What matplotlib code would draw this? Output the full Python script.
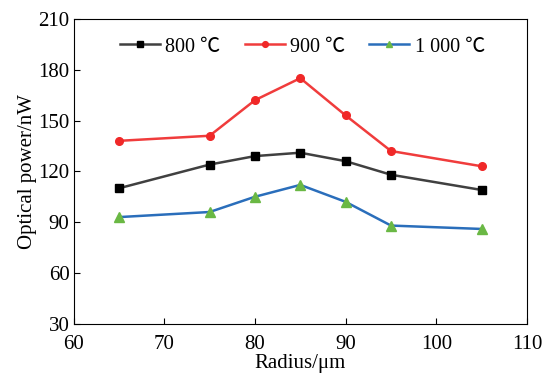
import matplotlib
matplotlib.use('Agg')
import matplotlib.pyplot as plt

plt.rcParams['font.family'] = ['Liberation Serif', 'Noto Sans CJK SC', 'DejaVu Serif']

# radius (um) and optical power (nW) at three annealing temperatures
radius = [65, 75, 80, 85, 90, 95, 105]
p800 = [110, 124, 129, 131, 126, 118, 109]
p900 = [138, 141, 162, 175, 153, 132, 123]
p1000 = [93, 96, 105, 112, 102, 88, 86]
labels = ['800 ℃', '900 ℃', '1 000 ℃']

fig = plt.figure(figsize=(5.45, 3.77), dpi=100)
ax = fig.add_axes([0.135, 0.141, 0.832, 0.809])

ax.plot(radius, p800, color='#404040', lw=1.8, marker='s', ms=5.5,
        mfc='black', mec='black', label=labels[0])
ax.plot(radius, p900, color='#f03c3c', lw=1.8, marker='o', ms=5.5,
        mfc='#f02828', mec='#f02828', label=labels[1])
ax.plot(radius, p1000, color='#2a6ebb', lw=1.8, marker='^', ms=6.5,
        mfc='#6ab844', mec='#6ab844', label=labels[2])

ax.set_xlim(60, 110)
ax.set_ylim(30, 210)
ax.set_xticks([60, 70, 80, 90, 100, 110])
ax.set_yticks(range(30, 211, 30))
ax.tick_params(direction='in', labelsize=15, length=4, width=0.8)
ax.tick_params(axis='x', pad=8)
ax.tick_params(axis='y', pad=3)
for s in ax.spines.values():
    s.set_linewidth(0.8)

ax.set_xlabel('Radius/μm', fontsize=15, labelpad=0)
ax.set_ylabel('Optical power/nW', fontsize=15, labelpad=1)

leg = ax.legend(loc='center left', ncol=3, frameon=False, fontsize=14.5,
                bbox_to_anchor=(120 / 545, 1 - 47 / 377), bbox_transform=fig.transFigure,
                handlelength=2.0, columnspacing=1.2, handletextpad=0.25,
                borderaxespad=0, borderpad=0, markerscale=0.75)

fig.savefig('out.png', dpi=100)
